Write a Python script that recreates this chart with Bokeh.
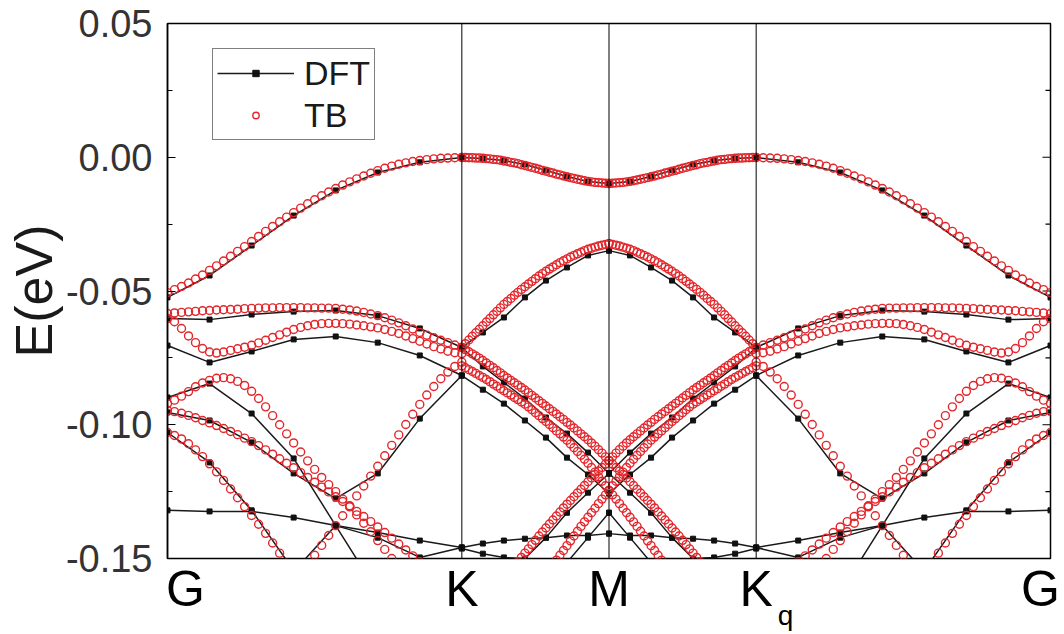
import numpy as np
from bokeh.plotting import figure
from bokeh.models import (Range1d, FixedTicker, PrintfTickFormatter, LinearAxis, Span,
                          Legend, LegendItem)
from bokeh.embed import file_html
from bokeh.resources import INLINE

# ---------------- data (energies in meV) ----------------
# high-symmetry path (left half G-K-M; right half M-Kq-G is its mirror image)
K_POS = [0.0, 1.0, 1.5, 2.0, 3.0]
K_NAMES = ["G", "K", "M", "K", "G"]
K_SUB = "q"

# TB (tight binding) bands, 43 samples along G-K
TV1_GK = [-50.6, -49.5, -48.3, -47.0, -45.5, -44.0, -42.3, -40.6, -38.8, -37.0, -35.2, -33.4, -31.5,
          -29.6, -27.7, -25.9, -24.1, -22.4, -20.7, -19.0, -17.4, -15.9, -14.4, -13.0, -11.7, -10.4,
          -9.2, -8.1, -7.0, -6.0, -5.0, -4.1, -3.3, -2.6, -2.1, -1.6, -1.2, -0.9, -0.6, -0.4, -0.3,
          -0.2, -0.1]
TB2_GK = [-58.4, -58.2, -58.0, -57.8, -57.6, -57.4, -57.3, -57.1, -57.0, -56.9, -56.8, -56.6, -56.5,
          -56.4, -56.3, -56.3, -56.2, -56.2, -56.2, -56.2, -56.3, -56.3, -56.4, -56.4, -56.5,
          -56.8, -57.1, -57.5, -58.0, -58.6, -59.2, -60.0, -60.9, -61.9, -63.0, -64.2, -65.5,
          -66.5, -67.5, -68.4, -69.3, -70.2, -71.1]
TB3_GK = [-60.3, -61.5, -64.0, -66.8, -69.3, -71.5, -72.8, -73.2, -72.8, -72.2, -71.6, -71.0, -70.3,
          -69.4, -68.4, -67.4, -66.4, -65.4, -64.4, -63.6, -63.0, -62.5, -62.2, -62.1, -62.1,
          -62.2, -62.4, -62.7, -63.0, -63.4, -63.8, -64.4, -65.1, -65.9, -66.8, -67.8, -68.8,
          -69.8, -70.8, -71.7, -72.5, -73.1, -73.4]
TB4_GK = [-92.1, -90.8, -89.3, -87.6, -85.8, -84.4, -83.4, -82.6, -82.4, -82.8, -83.8, -85.3, -87.5,
          -90.2, -93.3, -96.6, -100.0, -103.4, -106.8, -110.2, -113.5, -116.7, -119.7, -122.4,
          -125.0, -127.8, -130.7, -133.7, -136.8, -140.0, -143.3, -146.6, -150.0, -153.4] + [None] * 9
TB5_GK = [-94.6, -95.1, -95.7, -96.5, -97.4, -98.4, -99.3, -100.3, -101.4, -102.5, -103.7, -105.0,
          -106.3, -107.8, -109.4, -111.0, -112.7, -114.4, -116.1, -117.9, -119.7, -121.5, -123.3,
          -125.1, -126.9, -128.7, -130.5, -132.4, -134.3, -136.2, -138.2, -140.3, -142.4, -144.6,
          -146.8, -149.0, -151.2] + [None] * 6
TB6_GK = [None] * 20 + [-152.5, -148.8, -145.1, -141.4, -137.7, -134.0, -130.3, -126.6, -122.9,
                        -119.2, -115.5, -111.6, -107.7, -103.8, -99.9, -96.1, -92.4, -88.9, -85.7,
                        -82.8, -80.3, -78.2, -76.6]
TB7_GK = [-102.9, -104.0, -105.3, -107.1, -109.4, -111.9, -114.6, -117.6, -120.8, -124.0, -127.3,
          -130.6, -133.9, -137.2, -140.6, -144.2, -148.0, -151.8] + [None] * 25

# TB bands, 43 samples along K-M
TV1_KM = [-0.1, -0.1, -0.2, -0.2, -0.3, -0.3, -0.4, -0.5, -0.6, -0.8, -0.9, -1.1, -1.4, -1.6, -1.9,
          -2.1, -2.4, -2.8, -3.1, -3.4, -3.8, -4.1, -4.5, -4.9, -5.2, -5.6, -5.9, -6.3, -6.6, -7.0,
          -7.3, -7.6, -7.9, -8.2, -8.5, -8.8, -9.0, -9.2, -9.4, -9.5, -9.6, -9.7, -9.8]
TV2_KM = [-71.1, -69.7, -68.3, -66.9, -65.6, -64.3, -63.0, -61.6, -60.3, -58.9, -57.6, -56.3, -55.0,
          -53.9, -52.8, -51.6, -50.5, -49.4, -48.4, -47.4, -46.4, -45.4, -44.4, -43.5, -42.6,
          -41.8, -41.0, -40.2, -39.4, -38.7, -38.0, -37.3, -36.7, -36.1, -35.5, -34.9, -34.4,
          -34.0, -33.6, -33.2, -32.9, -32.6, -32.3]
TBA_KM = [-71.1, -71.9, -72.7, -73.5, -74.3, -75.1, -76.0, -76.9, -77.8, -78.7, -79.7, -80.6, -81.6,
          -82.5, -83.4, -84.3, -85.2, -86.1, -87.0, -88.0, -89.0, -90.0, -91.0, -92.0, -93.0,
          -94.0, -95.0, -96.0, -97.0, -98.0, -99.1, -100.1, -101.2, -102.3, -103.4, -104.5,
          -105.6, -106.8, -108.0, -109.3, -110.6, -112.0, -113.4]
TBB_KM = [-78.0, -78.7, -79.4, -80.1, -80.8, -81.6, -82.3, -83.1, -83.9, -84.8, -85.6, -86.5, -87.3,
          -88.1, -88.9, -89.8, -90.6, -91.5, -92.3, -93.3, -94.4, -95.5, -96.6, -97.7, -98.8,
          -99.9, -101.1, -102.3, -103.4, -104.6, -105.8, -107.2, -108.6, -110.0, -111.4, -112.9,
          -114.4, -116.0, -117.7, -119.4, -121.1, -122.8, -124.6]
TBA_LOW_KM = [None] * 15 + [-152.8, -151.2, -149.6, -148.0, -146.4, -144.8, -143.2, -141.6, -140.1,
                            -138.6, -137.1, -135.6, -134.1, -132.6, -131.1, -129.7, -128.3, -126.9,
                            -125.5, -124.1, -122.7, -121.3, -119.9, -118.6, -117.3, -116.0, -114.7,
                            -113.4]
TBB_LOW_KM = [None] * 26 + [-152.4, -150.6, -148.8, -147.0, -145.2, -143.4, -141.6, -139.8, -138.0,
                            -136.3, -134.6, -132.9, -131.2, -129.5, -127.8, -126.2, -124.6]

# DFT bands, 8 k-points along G-K
DFT_V1_GK = [-52.4, -44.2, -33.0, -21.8, -12.4, -5.7, -1.9, -0.1]
DFT_B_GK = [-60.3, -60.7, -58.8, -57.7, -57.3, -59.2, -64.0, -71.1]
DFT_C_GK = [-70.4, -76.7, -72.6, -68.1, -67.0, -69.3, -74.1, -81.6]
DFT_D_GK = [-89.8, -84.6, -95.8, -112.6, -137.7, -162.7, -185.0, -200.0]
DFT_E_GK = [-95.4, -98.4, -106.6, -118.2, -127.6, -118.2, -97.7, -81.6]
DFT_F_GK = [-102.9, -114.1, -132.0, -154.5, -180.0, None, None, None]
DFT_G_GK = [-132.0, -132.4, -132.4, -134.7, -137.7, -140.3, -143.3, -145.9]
DFT_H_GK = [None, None, -172.0, -154.9, -137.7, -142.2, -149.6, -145.9]
# DFT bands, 8 k-points along K-M
DFT_V1_KM = [-0.1, -0.5, -1.2, -2.7, -4.9, -7.2, -9.1, -9.8]
DFT_V2_KM = [-71.1, -65.5, -59.9, -52.4, -46.1, -41.2, -36.7, -34.9]
DFT_P_KM = [-71.1, -78.2, -84.2, -90.2, -97.3, -103.3, -110.4, -118.2]
DFT_Q_KM = [-81.6, -86.9, -92.1, -98.4, -104.8, -112.3, -118.6, -125.7]
DFT_S_KM = [-145.9, -144.4, -143.3, -142.6, -142.2, -141.4, -141.4, -140.7]
DFT_T_KM = [-146.3, -148.2, -149.6, -150.0, -142.2, -132.9, -125.4, -118.2]
DFT_U_KM = [None, None, None, None, -162.0, -151.5, -142.2, -132.9]

TB_GK = [TV1_GK, TB2_GK, TB3_GK, TB4_GK, TB5_GK, TB6_GK, TB7_GK]
TB_KM = [TV1_KM, TV2_KM, TBA_KM, TBB_KM, TBA_LOW_KM, TBB_LOW_KM]
DFT_GK = [DFT_V1_GK, DFT_B_GK, DFT_C_GK, DFT_D_GK, DFT_E_GK, DFT_F_GK, DFT_G_GK, DFT_H_GK]
DFT_KM = [DFT_V1_KM, DFT_V2_KM, DFT_P_KM, DFT_Q_KM, DFT_S_KM, DFT_T_KM, DFT_U_KM]


def to_ev(vals):
    return np.array([np.nan if v is None else v / 1000.0 for v in vals])


# ---------------- build sources ----------------
tb_x, tb_y = [], []
for bands, (k0, k1) in ((TB_GK, (K_POS[0], K_POS[1])), (TB_KM, (K_POS[1], K_POS[2]))):
    for b in bands:
        e = to_ev(b)
        k = np.linspace(k0, k1, len(b))
        for kk in (k, K_POS[-1] - k):  # mirror to the right half
            tb_x.extend(kk.tolist())
            tb_y.extend(e.tolist())

dft_xs, dft_ys, dft_px, dft_py = [], [], [], []
for bands, (k0, k1) in ((DFT_GK, (K_POS[0], K_POS[1])), (DFT_KM, (K_POS[1], K_POS[2]))):
    for b in bands:
        e = to_ev(b)
        k = np.linspace(k0, k1, len(b))
        for kk in (k, K_POS[-1] - k):
            dft_xs.append(kk)
            dft_ys.append(e)
            dft_px.extend(kk.tolist())
            dft_py.extend(e.tolist())

# ---------------- figure ----------------
W, H = 1064, 634
FL, FR, FT, FB = 167, 14, 23, 76
Y0, Y1 = -0.15, 0.05
X0, X1 = 0.0, 3.0
FW, FH = W - FL - FR, H - FT - FB


def xdata(px):
    return X0 + (px - FL) * (X1 - X0) / FW


p = figure(width=W, height=H, output_backend="svg", toolbar_location=None,
           x_range=Range1d(X0, X1), y_range=Range1d(Y0, Y1),
           min_border_left=FL, min_border_right=FR, min_border_top=FT, min_border_bottom=FB)
p.background_fill_color = "white"
p.border_fill_color = "white"
p.outline_line_color = "black"
p.outline_line_width = 1.5
p.xgrid.visible = False
p.ygrid.visible = False

# y axis
ticks = [-0.15, -0.10, -0.05, 0.0, 0.05]
minor = [-0.125, -0.075, -0.025, 0.025]
ya = p.yaxis[0]
ya.ticker = FixedTicker(ticks=ticks, minor_ticks=minor)
ya.formatter = PrintfTickFormatter(format="%.2f")
ya.major_tick_in = 8
ya.major_tick_out = 0
ya.minor_tick_in = 5
ya.minor_tick_out = 0
ya.major_label_standoff = 15
ya.major_label_text_font = "Liberation Sans"
ya.major_label_text_font_size = "38px"
ya.major_label_text_color = "#333333"
ya.axis_line_color = "black"
ya.axis_line_width = 1.5
ya.axis_label = "E(eV)"
ya.axis_label_text_font = "Liberation Sans"
ya.axis_label_text_font_size = "52px"
ya.axis_label_text_font_style = "normal"
ya.axis_label_text_color = "#1a1a1a"
ya.axis_label_standoff = 0

# mirrored ticks on the right frame edge (drawn as short segments)
tick_len_major = 8 * (X1 - X0) / FW
tick_len_minor = 5 * (X1 - X0) / FW
p.segment(x0=[X1 - tick_len_major] * len(ticks), x1=[X1] * len(ticks), y0=ticks, y1=ticks,
          line_color="black", line_width=1.2)
p.segment(x0=[X1 - tick_len_minor] * len(minor), x1=[X1] * len(minor), y0=minor, y1=minor,
          line_color="black", line_width=1.2)

# x axis: high-symmetry point names
xt = [round(xdata(185), 3), K_POS[1], K_POS[2], K_POS[3], round(xdata(1040), 3)]
xa = p.xaxis[0]
xa.ticker = FixedTicker(ticks=xt, minor_ticks=[])
xa.major_label_overrides = {t: n for t, n in zip(xt, K_NAMES)}
xa.major_tick_in = 0
xa.major_tick_out = 0
xa.minor_tick_in = 0
xa.minor_tick_out = 0
xa.axis_line_color = None
xa.major_label_standoff = 2
xa.major_label_text_font = "Liberation Sans"
xa.major_label_text_font_size = "50px"
xa.major_label_text_color = "black"

# subscript q of K_q
xq = round(xdata(785), 3)
qa = LinearAxis(ticker=FixedTicker(ticks=[xq], minor_ticks=[]),
                major_label_overrides={xq: K_SUB},
                major_tick_in=0, major_tick_out=0, minor_tick_in=0, minor_tick_out=0,
                axis_line_color=None, major_label_standoff=-20,
                major_label_text_font="Liberation Sans", major_label_text_font_size="28px",
                major_label_text_color="black")
p.add_layout(qa, "below")

for kp in K_POS[1:-1]:
    p.add_layout(Span(location=kp, dimension="height", line_color="black", line_width=1))

dft_lines = p.multi_line(xs=dft_xs, ys=dft_ys, line_color="#1a1a1a", line_width=1.5)
dft_sq = p.scatter(dft_px, dft_py, marker="square", size=5, color="#111111")
tb = p.scatter(tb_x, tb_y, marker="circle", size=8, fill_color=None,
               line_color="#e3262b", line_width=1.4)

legend = Legend(items=[LegendItem(label="DFT", renderers=[dft_lines, dft_sq]),
                       LegendItem(label="TB", renderers=[tb])],
                location=(45, 418), label_text_font="Liberation Sans",
                label_text_font_size="34px", label_text_color="#1a1a1a",
                glyph_width=77, glyph_height=16, label_height=40, label_standoff=10,
                spacing=2, padding=4, margin=0,
                border_line_color="black", border_line_width=1.5,
                background_fill_color="white", background_fill_alpha=1.0)
p.add_layout(legend)

open("out.html", "w").write(file_html(p, INLINE))
